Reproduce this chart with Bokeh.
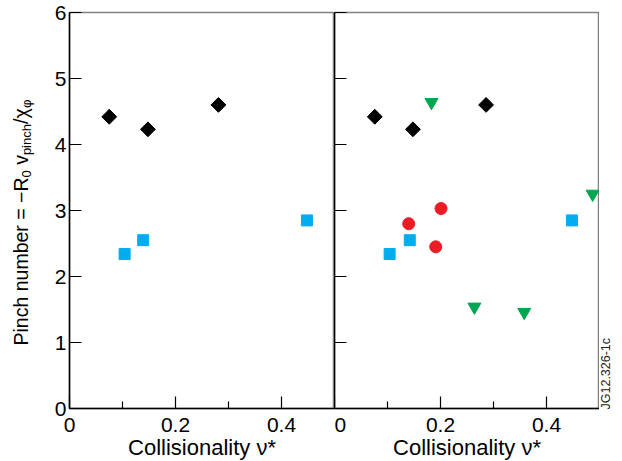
import math
from bokeh.plotting import figure
from bokeh.layouts import row
from bokeh.models import FixedTicker
from bokeh.core.properties import value
from bokeh.embed import file_html
from bokeh.resources import INLINE

# ---------------- data ----------------
left_diamond_x = [0.075, 0.148, 0.281]
left_diamond_y = [4.42, 4.23, 4.60]
left_square_x = [0.104, 0.139, 0.448]
left_square_y = [2.34, 2.55, 2.85]

right_diamond_x = [0.076, 0.148, 0.286]
right_diamond_y = [4.42, 4.23, 4.60]
right_square_x = [0.104, 0.142, 0.448]
right_square_y = [2.34, 2.55, 2.85]
right_circle_x = [0.140, 0.201, 0.191]
right_circle_y = [2.80, 3.03, 2.45]
right_triangle_x = [0.183, 0.264, 0.358, 0.487]
right_triangle_y = [4.64, 1.54, 1.46, 3.25]

x_ticks = [0, 0.2, 0.4]
x_minor_ticks = [0.1, 0.3]
x_tick_labels = ["0", "0.2", "0.4"]
y_ticks = [0, 1, 2, 3, 4, 5, 6]
y_tick_labels = ["0", "1", "2", "3", "4", "5", "6"]
x_title = "Collisionality \u03bd*"
# y title pieces: (text, is_subscript, leading gap in em)
y_title_pieces = [("Pinch number = \u2212R", False, 0.0), ("0", True, 0.0),
                  ("v", False, 0.278), ("pinch", True, 0.0),
                  ("/\u03c7", False, 0.0), ("\u03c6", True, 0.0)]
stamp = "JG12.326-1c"

FONT = "Liberation Sans"
GFONT = "Arial"
BLACK = "#000000"
CYAN = "#00aeef"
RED = "#ed1c24"
GREEN = "#00a651"
GRAY = "#808080"

FW, FH = 265, 396
H = 461


def style(p, show_y_labels):
    p.grid.visible = False
    p.outline_line_color = GRAY
    p.outline_line_width = 1.5
    p.background_fill_color = "white"
    p.border_fill_color = "white"
    xa = p.xaxis[0]
    xa.ticker = FixedTicker(ticks=x_ticks, minor_ticks=x_minor_ticks)
    xa.major_label_overrides = {t: s for t, s in zip(x_ticks, x_tick_labels)}
    xa.major_tick_in = 12
    xa.major_tick_out = 0
    xa.minor_tick_in = 7
    xa.minor_tick_out = 0
    xa.axis_line_color = BLACK
    xa.axis_line_width = 1.5
    xa.major_tick_line_color = BLACK
    xa.minor_tick_line_color = BLACK
    xa.major_tick_line_width = 1.2
    xa.minor_tick_line_width = 1.2
    xa.major_label_text_font = FONT
    xa.major_label_text_font_size = "21px"
    xa.major_label_text_color = BLACK
    xa.major_label_standoff = 9
    xa.axis_label = x_title
    xa.axis_label_text_font = FONT
    xa.axis_label_text_font_size = "22px"
    xa.axis_label_text_font_style = "normal"
    xa.axis_label_text_color = BLACK
    xa.axis_label_standoff = 0

    ya = p.yaxis[0]
    ya.ticker = FixedTicker(ticks=y_ticks, minor_ticks=[])
    if show_y_labels:
        ya.major_label_overrides = {t: s for t, s in zip(y_ticks, y_tick_labels)}
        ya.major_label_standoff = 3
        ya.major_label_text_font_size = "21px"
    else:
        ya.major_label_overrides = {t: "" for t in y_ticks}
        ya.major_label_standoff = 0
        ya.major_label_text_font_size = "1px"
    ya.major_tick_in = 12
    ya.major_tick_out = 0
    ya.minor_tick_line_color = None
    ya.axis_line_color = BLACK
    ya.axis_line_width = 1.5
    ya.major_tick_line_color = BLACK
    ya.major_tick_line_width = 1.2
    ya.major_label_text_font = FONT
    ya.major_label_text_color = BLACK


common = dict(x_range=(0, 0.5), y_range=(0, 6), output_backend="svg",
              toolbar_location=None, frame_width=FW, frame_height=FH,
              min_border_top=12, min_border_bottom=H - 12 - FH)

# ---- y-axis title strip (pixel coordinates) ----
TW = 45
ptitle = figure(x_range=(0, TW), y_range=(0, H), frame_width=TW, frame_height=H,
                output_backend="svg", toolbar_location=None,
                x_axis_location=None, y_axis_location=None,
                min_border=0, outline_line_color=None)
ptitle.grid.visible = False
ptitle.border_fill_color = "white"
w = {'P': 667, 'i': 222, 'n': 556, 'c': 500, 'h': 556, ' ': 278, 'u': 556,
     'm': 833, 'b': 556, 'e': 556, 'r': 333, '=': 584, '\u2212': 584, 'R': 722,
     '0': 556, 'v': 500, 'p': 556, '/': 278, '\u03c7': 540, '\u03c6': 650}
MAIN_FS, SUB_FS = 19.5, 13.0
tx, ty, tt, tf = [], [], [], []
ycur = H - 333
for txt, sub, gap in y_title_pieces:
    fs = SUB_FS if sub else MAIN_FS
    ycur += gap * fs
    tx.append(25.5 if sub else 20)
    ty.append(ycur)
    tt.append(txt)
    tf.append(f"{fs}px")
    ycur += sum(w.get(ch, 556) for ch in txt) * fs / 1000.0
ptitle.text(x=tx, y=ty, text=tt, angle=math.pi / 2, text_font=value(GFONT),
            text_font_size=tf, text_color=BLACK, text_align="left",
            text_baseline="alphabetic")

p1 = figure(min_border_left=69 - TW, min_border_right=0, **common)
style(p1, True)
p1.scatter(left_diamond_x, left_diamond_y, marker="square", angle=math.pi / 4,
           size=10.5, fill_color=BLACK, line_color=BLACK)
p1.scatter(left_square_x, left_square_y, marker="square", size=11,
           fill_color=CYAN, line_color=CYAN)

p2 = figure(min_border_left=0, min_border_right=0, **common)
style(p2, False)
p2.scatter(right_diamond_x, right_diamond_y, marker="square", angle=math.pi / 4,
           size=10.5, fill_color=BLACK, line_color=BLACK)
p2.scatter(right_square_x, right_square_y, marker="square", size=11,
           fill_color=CYAN, line_color=CYAN)
p2.scatter(right_circle_x, right_circle_y, marker="circle", size=12,
           fill_color=RED, line_color=RED)
p2.scatter(right_triangle_x, right_triangle_y, marker="inverted_triangle", size=13,
           fill_color=GREEN, line_color=GREEN)

# ---- stamp strip on the right ----
SW = 622 - 69 - 2 * FW
pstamp = figure(x_range=(0, SW), y_range=(0, H), frame_width=SW, frame_height=H,
                output_backend="svg", toolbar_location=None,
                x_axis_location=None, y_axis_location=None,
                min_border=0, outline_line_color=None)
pstamp.grid.visible = False
pstamp.text(x=[6], y=[H - 397], text=[stamp], angle=math.pi / 2,
            text_font=value(GFONT), text_font_size="12.5px", text_color="#222222",
            text_align="left", text_baseline="alphabetic")

layout = row(ptitle, p1, p2, pstamp)
open("out.html", "w").write(file_html(layout, INLINE))
